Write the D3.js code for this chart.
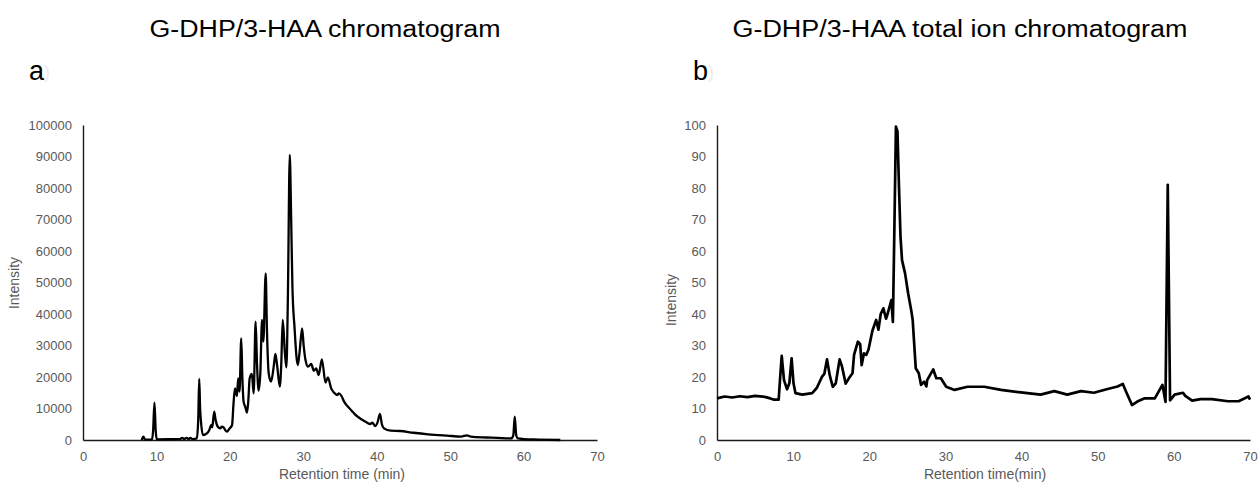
<!DOCTYPE html>
<html>
<head>
<meta charset="utf-8">
<script src="https://cdn.jsdelivr.net/npm/d3@7"></script>
<style>
  body { margin: 0; background: #fff; }
  text { font-family: "Liberation Sans", Arial, sans-serif; }
</style>
</head>
<body>
<div id="container"></div>
<script>
// chart a: G-DHP/3-HAA chromatogram
const timeA = [8.0, 8.23, 8.45, 9.4, 9.55, 9.73, 9.9, 10.05, 12, 13.24, 13.5, 13.78, 14.1, 14.4, 14.6, 14.9,
  15.5, 15.69, 15.83, 15.95, 16.05, 16.33, 16.87, 17.2, 17.46, 17.6, 17.87, 18.05, 18.24, 18.45, 18.69, 18.9,
  19.15, 19.35, 19.6, 19.97, 20.3, 20.5, 20.7, 20.96, 21.14, 21.32, 21.55, 21.7, 21.87, 22.1, 22.33, 22.5,
  22.7, 23.0, 23.24, 23.51, 23.7, 23.92, 24.15, 24.38, 24.56, 24.88, 25.05, 25.29, 25.61, 25.97, 26.2, 26.43,
  26.8, 27.0, 27.2, 27.5, 27.7, 27.9, 28.16, 28.35, 28.52, 28.8, 29.25, 29.5, 29.84, 30.05, 30.3, 30.66,
  31.07, 31.44, 31.75, 32.1, 32.53, 33.03, 33.35, 33.8, 34.2, 34.6, 34.85, 35.2, 35.56, 36.0, 36.5, 37.0,
  37.4, 37.9, 38.3, 38.7, 39.1, 39.4, 39.8, 40.1, 40.44, 40.7, 40.99, 41.9, 43.2, 45, 47, 49.6, 51.5, 52.3,
  52.8, 55, 58.3, 58.6, 58.8, 59.0, 59.2, 60, 62, 65];
const intensityA = [0, 1050, 100, 200, 3000, 11850, 3000, 200, 250, 300, 700, 300, 700, 300, 700, 300,
  500, 6350, 19370, 10000, 6350, 1590, 2100, 3200, 4760, 4000, 8990, 6500, 4760, 4000, 3700, 4200,
  4000, 3200, 2650, 3700, 4760, 11640, 16400, 13970, 19580, 15340, 32280, 20000, 12170, 10500, 8680, 12000,
  19580, 20960, 14820, 37570, 24000, 15660, 21170, 38100, 31220, 52920, 35000, 21170, 18520, 23280, 27300, 23800,
  16930, 24000, 38100, 27520, 23070, 45000, 90490, 70000, 48680, 35980, 23810, 28000, 35460, 30000, 25400, 23280,
  24130, 22010, 22750, 20640, 25620, 18200, 19900, 16400, 15000, 14290, 14800, 13970, 12170, 10800, 9530, 8200,
  7410, 6600, 6030, 5500, 5080, 5500, 4445, 5500, 8255, 5000, 3700, 2960, 2860, 2300, 1800, 1370, 1100, 1500,
  1100, 800, 500, 1500, 7400, 1500, 500, 300, 150, 0];
const ticksYA = [0, 10000, 20000, 30000, 40000, 50000, 60000, 70000, 80000, 90000, 100000];

// chart b: total ion chromatogram (%)
const timeB = [0, 1, 2, 3, 4, 5, 6, 6.4, 7, 7.5, 8.1, 8.3, 8.5, 8.8, 9.2, 9.5, 9.8, 10.05, 10.3, 11.2,
  12.5, 13.1, 13.8, 14.1, 14.45, 14.8, 15.2, 15.6, 16.1, 16.4, 16.9, 17.3, 17.8, 18.0, 18.5, 18.8, 19.0,
  19.3, 19.6, 19.9, 20.4, 20.9, 21.2, 21.5, 21.85, 22.2, 22.4, 22.9, 23.1, 23.25, 23.5, 23.7, 23.9, 24.1,
  24.3, 24.7, 25.1, 25.5, 25.7, 26.1, 26.5, 26.8, 27.2, 27.5, 27.6, 28.4, 28.8, 29.4, 30.1, 31.2, 32.9,
  35.1, 37.3, 39.9, 42.5, 44.3, 46.0, 47.8, 49.5, 51.3, 52.6, 53.3, 53.7, 54.5, 55.2, 56.1, 57.5, 58.5,
  58.9, 59.2, 59.5, 60.1, 61.2, 61.5, 62.4, 63.5, 65, 67.1, 68.5, 69.8, 70];
const intensityB = [13.2, 13.8, 13.5, 13.9, 13.6, 14.0, 13.8, 13.6, 13.2, 12.8, 12.8, 20, 26.7, 19, 16.1, 18, 25.9, 18, 14.9, 14.4,
  14.9, 16.5, 20.1, 21, 25.6, 20.6, 16.9, 18, 25.6, 23.5, 17.9, 19.5, 21.2, 27, 31.2, 30.5, 23.8,
  27.5, 27, 28.7, 34.6, 38.1, 35, 40, 41.8, 38.5, 40, 44.4, 37.5, 60, 99.5, 98, 80.4, 64.5,
  57.1, 52.9, 46.6, 41.3, 38.1, 22.8, 21.2, 17.5, 18.5, 17, 19, 22.4, 19.6, 19.6, 16.9, 15.9, 16.9,
  16.9, 15.9, 15.1, 14.4, 15.5, 14.4, 15.5, 15.0, 16.2, 17, 17.8, 15.5, 11.1, 12.2, 13.2, 13.2, 17.5,
  12.1, 81, 12.6, 14.4, 15, 14, 12.5, 13, 13, 12.3, 12.3, 13.8, 12.8];
const ticksYB = [0, 10, 20, 30, 40, 50, 60, 70, 80, 90, 100];

const ticksX = [0, 10, 20, 30, 40, 50, 60, 70];

let svg = d3.select('#container')
    .append('svg')
    .attr('width', 1259)
    .attr('height', 484);

function drawPanel(opts) {
    let x = d3.scaleLinear().domain([0, 70]).range([opts.left, opts.right]);
    let y = d3.scaleLinear().domain([0, opts.yMax]).range([440, 125]);

    svg.append('text')
        .attr('x', opts.titleX)
        .attr('y', 37)
        .attr('text-anchor', 'middle')
        .attr('font-size', 23)
        .attr('textLength', opts.titleLen)
        .attr('lengthAdjust', 'spacingAndGlyphs')
        .attr('fill', '#000')
        .text(opts.title);

    svg.append('text')
        .attr('x', opts.letterX)
        .attr('y', 80)
        .attr('font-size', 27)
        .attr('fill', '#000')
        .text(opts.letter);
    svg.append('text')
        .attr('x', opts.letterX + 15)
        .attr('y', 78)
        .attr('font-size', 18)
        .attr('fill', '#ececec')
        .text(')');

    let yAxis = svg.append('g')
        .attr('transform', `translate(${opts.left},0)`)
        .call(d3.axisLeft(y).tickValues(opts.ticksY).tickSize(0).tickPadding(11).tickFormat(d3.format('d')));
    let xAxis = svg.append('g')
        .attr('transform', 'translate(0,440)')
        .call(d3.axisBottom(x).tickValues(ticksX).tickSize(0).tickPadding(12));

    [yAxis, xAxis].forEach(g => {
        g.select('.domain').attr('stroke', '#1a1a1a').attr('stroke-width', 1.4);
        g.selectAll('text')
            .attr('fill', '#595959')
            .attr('font-size', 13)
            .style('font-family', '"Liberation Sans", Arial, sans-serif');
    });

    svg.append('text')
        .attr('transform', `translate(${opts.yLabelX},${opts.yLabelY}) rotate(-90)`)
        .attr('text-anchor', 'middle')
        .attr('font-size', 14)
        .attr('fill', '#595959')
        .text('Intensity');

    svg.append('text')
        .attr('x', opts.xLabelX)
        .attr('y', 479)
        .attr('text-anchor', 'middle')
        .attr('font-size', 14)
        .attr('fill', '#595959')
        .text(opts.xLabel);

    let pts = opts.times.map((t, i) => [t, opts.values[i]]);
    let line = d3.line()
        .x(d => x(d[0]))
        .y(d => y(d[1]))
        .curve(opts.curve);

    svg.append('path')
        .datum(pts)
        .attr('d', line)
        .attr('fill', 'none')
        .attr('stroke', '#000')
        .attr('stroke-width', opts.lineWidth)
        .attr('stroke-linejoin', 'round');
}

drawPanel({
    left: 83, right: 597, yMax: 100000, ticksY: ticksYA,
    title: 'G-DHP/3-HAA chromatogram', titleX: 325, titleLen: 351,
    letter: 'a', letterX: 29,
    yLabelX: 19, yLabelY: 283,
    xLabel: 'Retention time (min)', xLabelX: 342,
    times: timeA, values: intensityA, curve: d3.curveMonotoneX, lineWidth: 2.3
});

drawPanel({
    left: 717, right: 1250, yMax: 100, ticksY: ticksYB,
    title: 'G-DHP/3-HAA total ion chromatogram', titleX: 960, titleLen: 455,
    letter: 'b', letterX: 693,
    yLabelX: 676, yLabelY: 300,
    xLabel: 'Retention time(min)', xLabelX: 985,
    times: timeB, values: intensityB, curve: d3.curveLinear, lineWidth: 2.7
});
</script>
</body>
</html>
